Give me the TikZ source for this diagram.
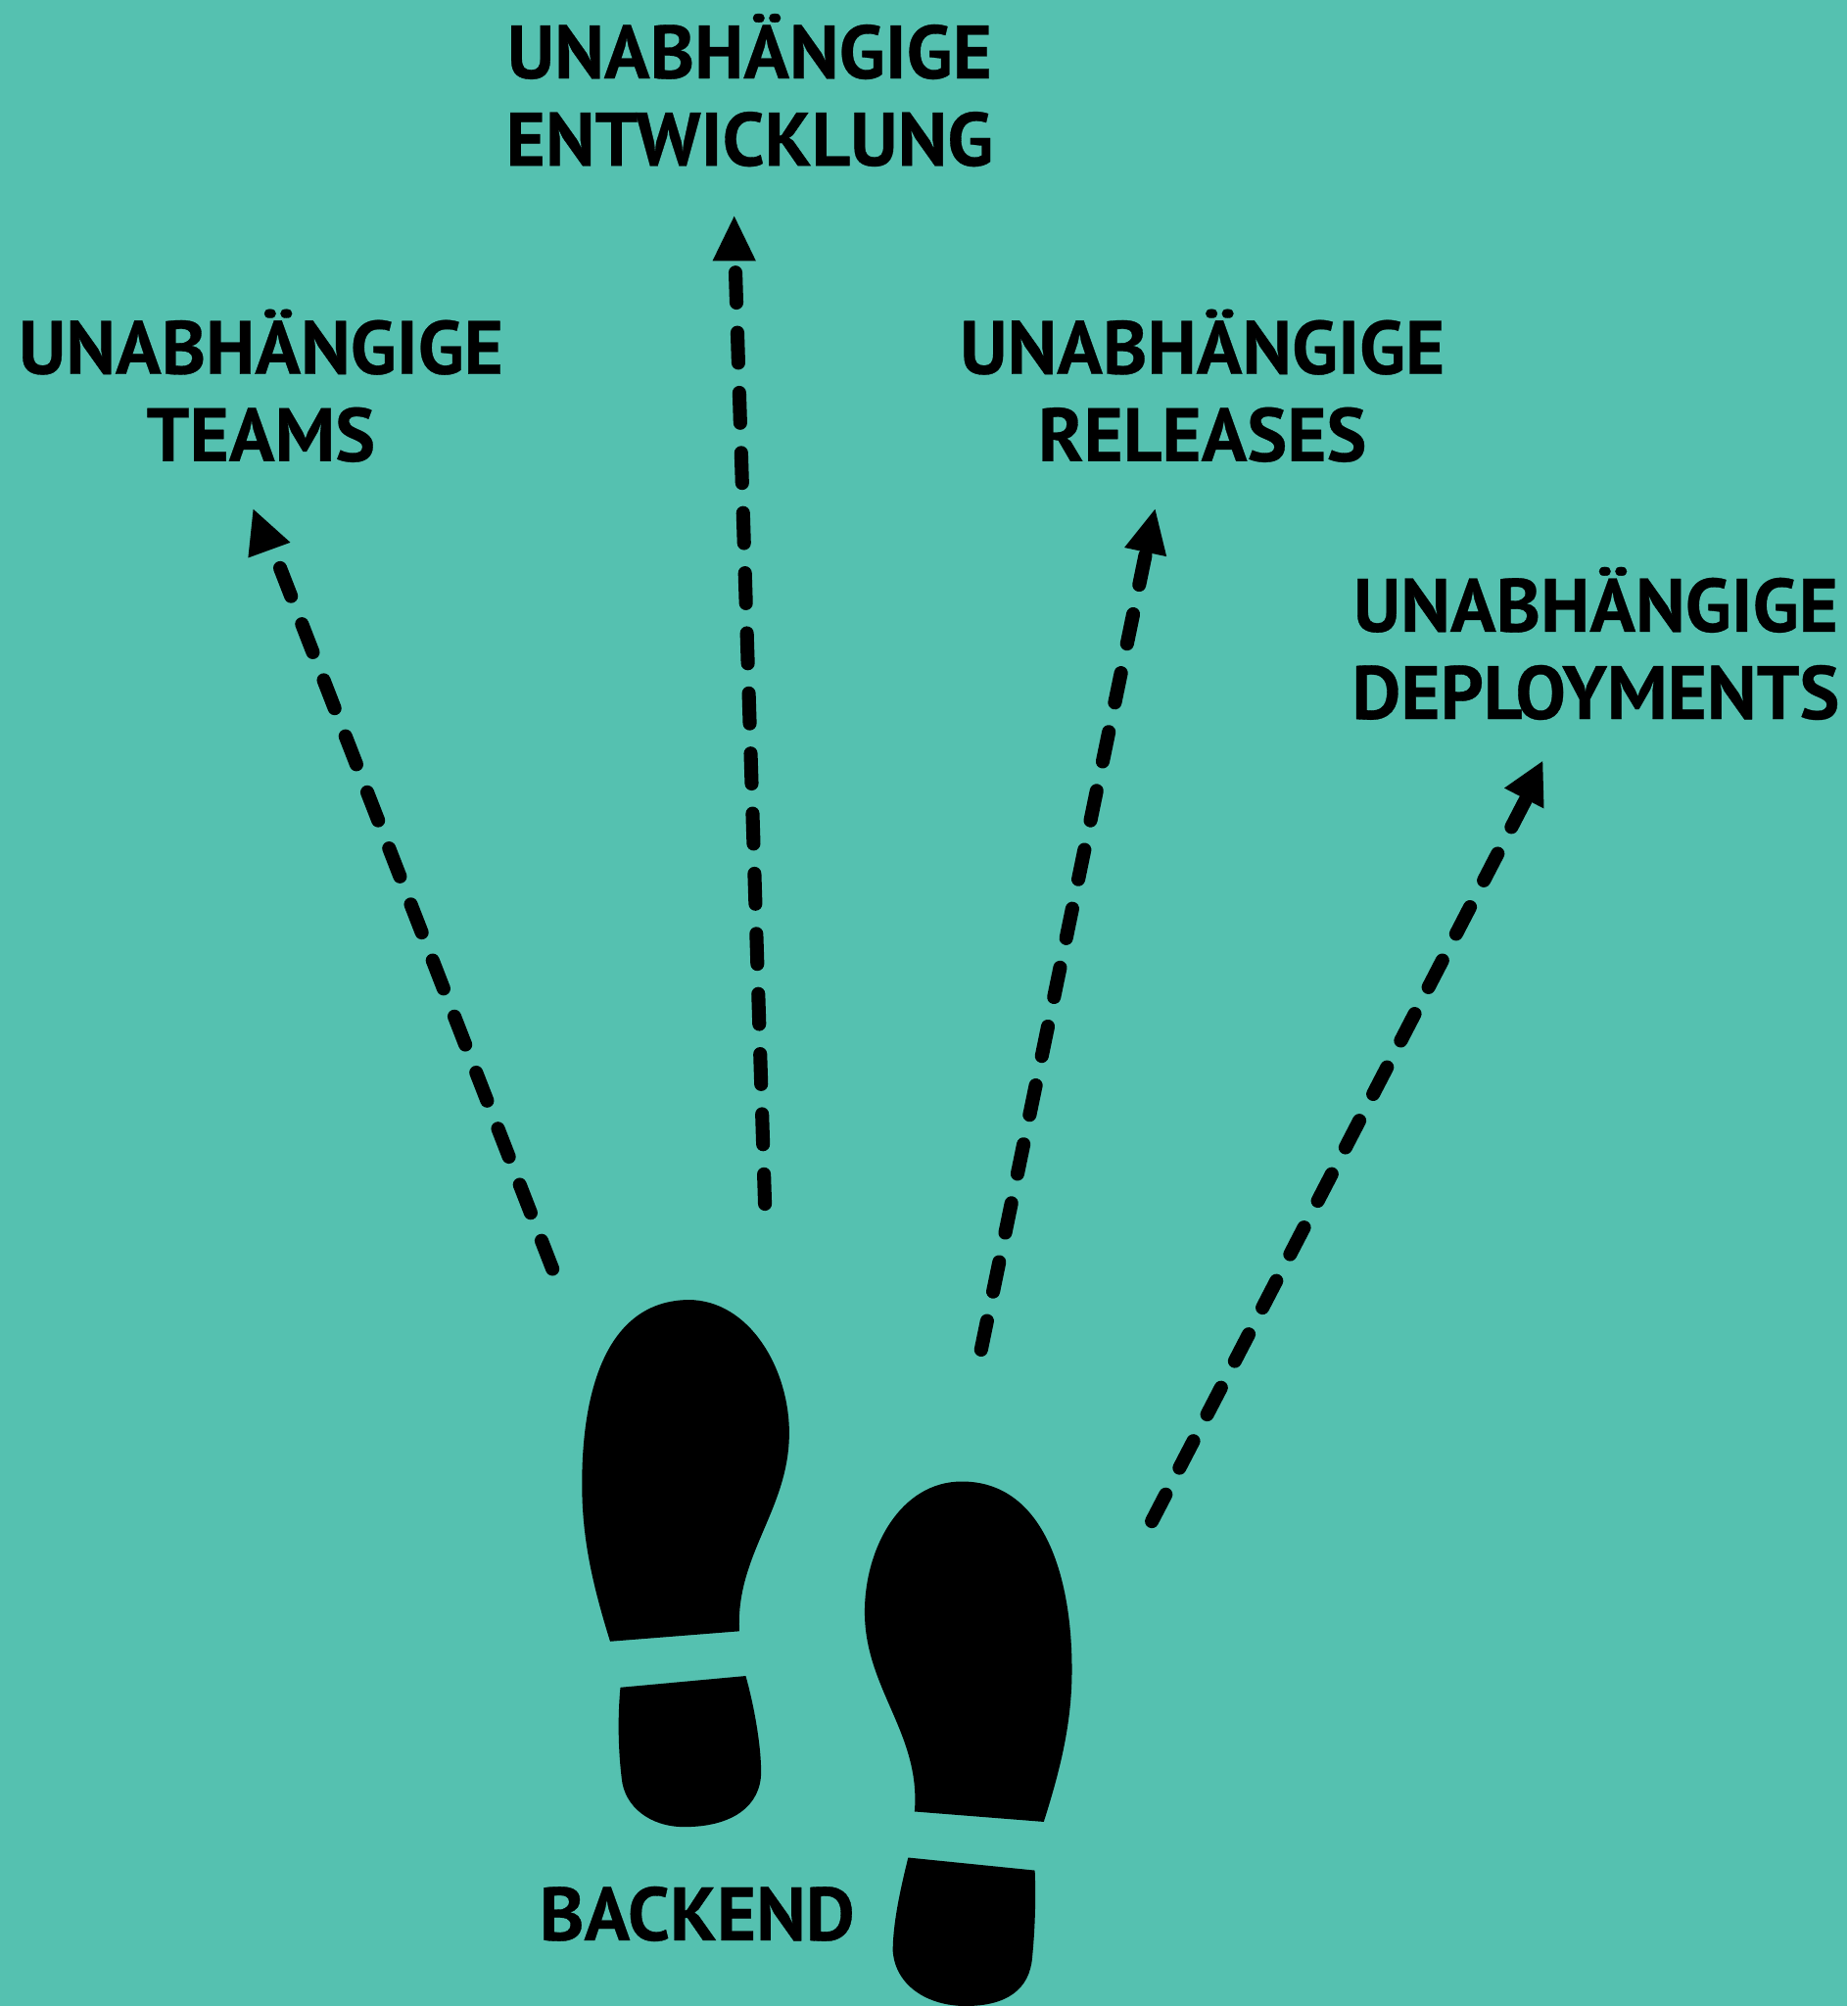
\documentclass[tikz,border=0pt]{standalone}
\usepackage{fontspec}
\setmainfont[BoldFeatures={FakeBold=0.4}]{PT Sans}
\usetikzlibrary{arrows.meta}
\definecolor{bg}{HTML}{55C1B0}
\tikzset{x=0.025cm,y=-0.025cm,
 lab/.style={font=\bfseries\fontsize{42}{48.5}\selectfont,align=center,text=black,inner sep=0,anchor=center},
 dashline/.style={line width=0.27cm,dash pattern=on 0.59cm off 0.585cm,line cap=round,black},
 tip/.style={fill=black,draw=none},
 foot/.style={fill=black,draw=none}}
\begin{document}
\begin{tikzpicture}
\fill[bg] (0,0) rectangle (1444,1568);
\useasboundingbox (0,0) rectangle (1444,1568);
\node[lab] (t1) at (586,70.5) {UNABHÄNGIGE\\ENTWICKLUNG};
\node[lab] (t2) at (204,301.5) {UNABHÄNGIGE\\TEAMS};
\node[lab] (t3) at (940,301.5) {UNABHÄNGIGE\\RELEASES};
\node[lab] (t4) at (1247.5,503) {UNABHÄNGIGE\\DEPLOYMENTS};
\node[lab] (t5) at (545,1496) {BACKEND};
\coordinate (a1) at (432,992); \coordinate (b1) at (219,444);
\coordinate (a2) at (598,941); \coordinate (b2) at (575,213);
\coordinate (a3) at (767,1055); \coordinate (b3) at (895.4,434);
\coordinate (a4) at (900,1190); \coordinate (b4) at (1192.5,625.5);
\draw[dashline] (b1)--(a1);
\draw[dashline] (b2)--(a2);
\draw[dashline] (b3)--(a3);
\draw[dashline] (b4)--(a4);
\fill[tip] (198,398) -- (227,424) -- (194,436) -- cycle;
\fill[tip] (574,169) -- (591,204) -- (557,204) -- cycle;
\fill[tip] (903,398) -- (912,435) -- (879,428) -- cycle;
\fill[tip] (1206,595) -- (1207,632) -- (1176,616) -- cycle;
% left foot
\fill[foot] (477,1283) .. controls (462,1235) and (455,1200) .. (455,1160)
 .. controls (455,1085) and (475,1017) .. (538,1016)
 .. controls (586,1016) and (617,1070) .. (617,1120)
 .. controls (617,1180) and (575,1215) .. (578,1275) -- cycle;
\fill[foot] (485,1319) -- (583,1310) .. controls (590,1335) and (595,1365) .. (595,1385)
 .. controls (595,1412) and (572,1428) .. (535,1428)
 .. controls (508,1428) and (488,1412) .. (486,1390)
 .. controls (483,1365) and (483,1340) .. (485,1319) -- cycle;
% right foot
\fill[foot] (816,1424) .. controls (830,1380) and (838,1345) .. (838,1305)
 .. controls (838,1230) and (815,1158) .. (752,1158)
 .. controls (704,1158) and (676,1210) .. (676,1260)
 .. controls (676,1320) and (720,1355) .. (715,1416) -- cycle;
\fill[foot] (809,1462) -- (710,1452) .. controls (703,1480) and (698,1505) .. (698,1525)
 .. controls (700,1552) and (725,1568) .. (755,1568)
 .. controls (787,1568) and (805,1555) .. (807,1530)
 .. controls (809,1510) and (810,1485) .. (809,1462) -- cycle;
\end{tikzpicture}
\end{document}
